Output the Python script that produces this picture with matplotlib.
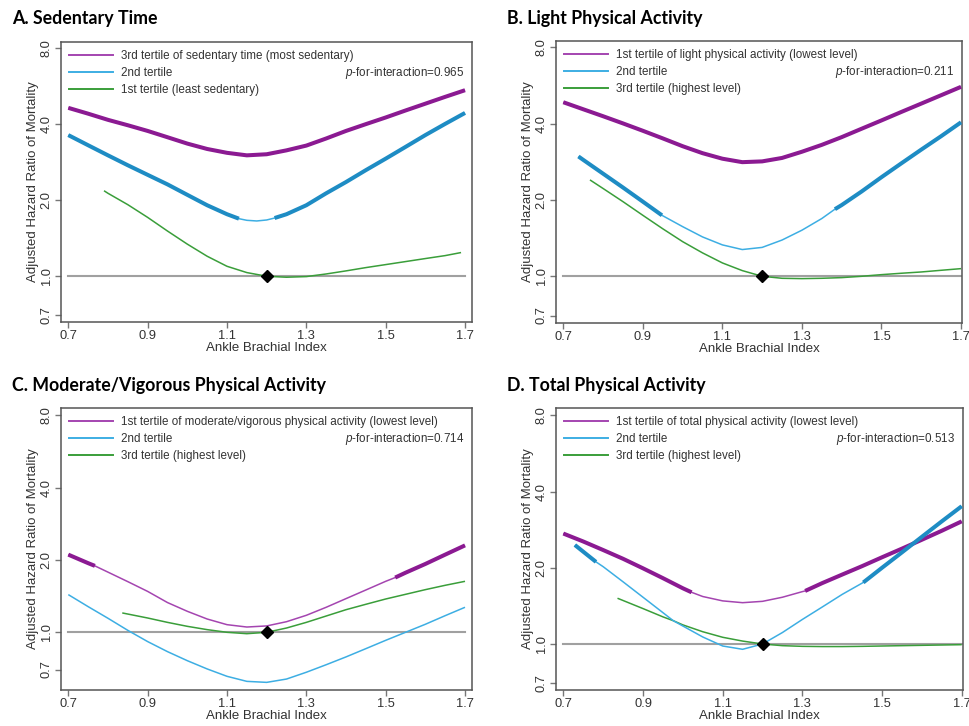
import matplotlib.pyplot as plt
import matplotlib.ticker as mticker
import numpy as np

plt.rcParams['font.family'] = ['Liberation Sans', 'DejaVu Sans']
plt.rcParams['mathtext.fontset'] = 'custom'
plt.rcParams['mathtext.rm'] = 'Liberation Sans'
plt.rcParams['mathtext.it'] = 'Liberation Sans:italic'

# ---------------- data (ABI vs adjusted HR) ----------------
titles = ['A. Sedentary Time', 'B. Light Physical Activity',
          'C. Moderate/Vigorous Physical Activity', 'D. Total Physical Activity']
labels_a = ['3rd tertile of sedentary time (most sedentary)', '2nd tertile', '1st tertile (least sedentary)']
labels_b = ['1st tertile of light physical activity (lowest level)', '2nd tertile', '3rd tertile (highest level)']
labels_c = ['1st tertile of moderate/vigorous physical activity (lowest level)', '2nd tertile', '3rd tertile (highest level)']
labels_d = ['1st tertile of total physical activity (lowest level)', '2nd tertile', '3rd tertile (highest level)']
p_values = ['0.965', '0.211', '0.714', '0.513']

x_ticks = [0.7, 0.9, 1.1, 1.3, 1.5, 1.7]
y_ticks = [0.7, 1.0, 2.0, 4.0, 8.0]
ref_abi = 1.2

abi_grid = [0.70, 0.75, 0.80, 0.85, 0.90, 0.95, 1.00, 1.05, 1.10, 1.15, 1.20,
            1.25, 1.30, 1.35, 1.40, 1.45, 1.50, 1.55, 1.60, 1.65, 1.70]

# panel A
a_purple_x = abi_grid
a_purple_hr = [4.64, 4.40, 4.16, 3.96, 3.76, 3.55, 3.35, 3.19, 3.08, 3.01, 3.04,
               3.15, 3.29, 3.51, 3.76, 4.00, 4.25, 4.53, 4.82, 5.13, 5.45]
a_blue_x = [0.70, 0.75, 0.80, 0.85, 0.90, 0.95, 1.00, 1.05, 1.10, 1.13, 1.15, 1.175, 1.20, 1.22,
            1.25, 1.30, 1.35, 1.40, 1.45, 1.50, 1.55, 1.60, 1.65, 1.70]
a_blue_hr = [3.62, 3.30, 3.01, 2.75, 2.52, 2.31, 2.10, 1.91, 1.76, 1.69, 1.665, 1.655, 1.67, 1.70,
             1.76, 1.91, 2.13, 2.36, 2.63, 2.92, 3.25, 3.62, 4.01, 4.43]
a_green_x = [0.79, 0.80, 0.85, 0.90, 0.95, 1.00, 1.05, 1.10, 1.15, 1.20, 1.25, 1.30, 1.35,
             1.40, 1.45, 1.50, 1.55, 1.60, 1.65, 1.69]
a_green_hr = [2.18, 2.13, 1.92, 1.71, 1.51, 1.34, 1.20, 1.095, 1.034, 1.00, 0.991, 0.997, 1.021,
              1.05, 1.082, 1.112, 1.143, 1.175, 1.207, 1.241]
a_thick = [[(0.70, 1.70)], [(0.70, 1.13), (1.22, 1.70)], []]

# panel B
b_purple_x = abi_grid
b_purple_hr = [4.86, 4.56, 4.28, 4.01, 3.75, 3.50, 3.26, 3.06, 2.91, 2.82, 2.84,
               2.93, 3.10, 3.30, 3.54, 3.82, 4.12, 4.45, 4.80, 5.18, 5.59]
b_blue_x = [0.738, 0.75, 0.80, 0.85, 0.90, 0.948, 1.00, 1.05, 1.10, 1.15, 1.20, 1.25, 1.30,
            1.35, 1.383, 1.40, 1.45, 1.50, 1.55, 1.60, 1.65, 1.70]
b_blue_hr = [2.97, 2.88, 2.54, 2.24, 1.97, 1.74, 1.57, 1.43, 1.33, 1.275, 1.30, 1.39, 1.52,
             1.69, 1.84, 1.91, 2.16, 2.46, 2.79, 3.16, 3.57, 4.05]
b_green_x = [0.767, 0.80, 0.85, 0.90, 0.95, 1.00, 1.05, 1.10, 1.15, 1.20, 1.25, 1.30, 1.35,
             1.40, 1.45, 1.50, 1.55, 1.60, 1.65, 1.70]
b_green_hr = [2.40, 2.22, 1.97, 1.74, 1.54, 1.37, 1.237, 1.129, 1.053, 1.00, 0.982, 0.979, 0.982,
              0.988, 1.00, 1.015, 1.028, 1.04, 1.056, 1.072]
b_thick = [[(0.70, 1.70)], [(0.738, 0.948), (1.383, 1.70)], []]

# panel C
c_purple_x = [0.70, 0.75, 0.767, 0.80, 0.85, 0.90, 0.95, 1.00, 1.05, 1.10, 1.15, 1.20, 1.25,
              1.30, 1.35, 1.40, 1.45, 1.50, 1.524, 1.55, 1.60, 1.65, 1.70]
c_purple_hr = [2.105, 1.94, 1.89, 1.78, 1.625, 1.48, 1.33, 1.223, 1.136, 1.076, 1.052, 1.063, 1.107,
               1.177, 1.271, 1.381, 1.50, 1.63, 1.69, 1.77, 1.925, 2.105, 2.30]
c_blue_x = abi_grid
c_blue_hr = [1.435, 1.279, 1.144, 1.019, 0.915, 0.831, 0.762, 0.704, 0.656, 0.625, 0.619,
             0.639, 0.682, 0.733, 0.790, 0.855, 0.926, 1.00, 1.08, 1.173, 1.271]
c_green_x = [0.836, 0.90, 0.95, 1.00, 1.05, 1.10, 1.15, 1.20, 1.25, 1.30, 1.35, 1.40, 1.45,
             1.50, 1.55, 1.60, 1.65, 1.70]
c_green_hr = [1.204, 1.147, 1.10, 1.059, 1.026, 1.00, 0.987, 1.00, 1.042, 1.10, 1.169, 1.242, 1.308,
              1.376, 1.439, 1.505, 1.569, 1.63]
c_thick = [[(0.70, 0.767), (1.524, 1.70)], [], []]

# panel D
d_purple_x = [0.70, 0.75, 0.80, 0.85, 0.90, 0.95, 1.00, 1.022, 1.05, 1.10, 1.15, 1.20, 1.25,
              1.30, 1.307, 1.35, 1.40, 1.45, 1.50, 1.55, 1.60, 1.65, 1.70]
d_purple_hr = [2.73, 2.54, 2.35, 2.17, 1.99, 1.82, 1.66, 1.60, 1.54, 1.48, 1.456, 1.474, 1.53,
               1.61, 1.62, 1.74, 1.88, 2.03, 2.20, 2.38, 2.58, 2.80, 3.05]
d_blue_x = [0.729, 0.782, 0.80, 0.85, 0.90, 0.95, 0.976, 1.00, 1.05, 1.10, 1.15, 1.20, 1.25,
            1.30, 1.35, 1.40, 1.453, 1.50, 1.55, 1.60, 1.65, 1.70]
d_blue_hr = [2.46, 2.11, 2.02, 1.76, 1.53, 1.33, 1.236, 1.178, 1.066, 0.982, 0.953, 1.00, 1.11,
             1.25, 1.40, 1.57, 1.75, 2.00, 2.30, 2.65, 3.05, 3.50]
d_green_x = [0.836, 0.90, 0.95, 0.976, 1.00, 1.05, 1.10, 1.15, 1.20, 1.25, 1.30, 1.35, 1.40,
             1.45, 1.50, 1.55, 1.60, 1.65, 1.70]
d_green_hr = [1.516, 1.38, 1.28, 1.236, 1.19, 1.118, 1.063, 1.027, 1.00, 0.985, 0.979, 0.977, 0.977,
              0.979, 0.982, 0.985, 0.988, 0.991, 0.994]
d_thick = [[(0.70, 1.022), (1.307, 1.70)], [(0.729, 0.782), (1.453, 1.70)], []]

# ---------------- styling ----------------
thick_col = ['#8B1A92', '#1E8CC4', '#3A9E3A']
thin_col = ['#A445B0', '#3DAEE3', '#3A9E3A']
W, H = 969, 726

# frame boxes in pixels: left, top, right, bottom
boxes = [(61, 41.7, 472, 322), (556, 40.7, 962, 322.7),
         (61, 408, 472, 689.7), (556, 408, 963, 689.7)]
xlims = [(0.6816, 1.7176), (0.6816, 1.7025), (0.6816, 1.7176), (0.6816, 1.7033)]
ylims = [(0.659, 8.48), (0.656, 8.5), (0.577, 8.58), (0.66, 8.55)]
title_pos = [(12, 24.3), (506.7, 24.3), (12, 391.3), (506.7, 391.3)]

panels = [
    (labels_a, [(a_purple_x, a_purple_hr), (a_blue_x, a_blue_hr), (a_green_x, a_green_hr)], a_thick),
    (labels_b, [(b_purple_x, b_purple_hr), (b_blue_x, b_blue_hr), (b_green_x, b_green_hr)], b_thick),
    (labels_c, [(c_purple_x, c_purple_hr), (c_blue_x, c_blue_hr), (c_green_x, c_green_hr)], c_thick),
    (labels_d, [(d_purple_x, d_purple_hr), (d_blue_x, d_blue_hr), (d_green_x, d_green_hr)], d_thick),
]

fig = plt.figure(figsize=(W / 100, H / 100), dpi=100)

for k, (labels, series, thick) in enumerate(panels):
    l, t, r, b = boxes[k]
    ax = fig.add_axes([l / W, 1 - b / H, (r - l) / W, (b - t) / H])
    ax.set_yscale('log')

    ax.plot([0.7, 1.7], [1.0, 1.0], color='#A0A0A0', lw=1.5, zorder=1)

    handles = []
    for s in [2, 0, 1]:
        x = np.array(series[s][0])
        y = np.array(series[s][1])
        ax.plot(x, y, color=thin_col[s], lw=1.1, zorder=2, solid_capstyle='butt')
        for (x0, x1) in thick[s]:
            m = (x >= x0 - 1e-9) & (x <= x1 + 1e-9)
            ax.plot(x[m], y[m], color=thick_col[s], lw=2.9, zorder=3,
                    solid_capstyle='butt', solid_joinstyle='round')
    for s in range(3):
        h, = ax.plot([], [], color=thin_col[s], lw=1.4)
        handles.append(h)

    ax.plot([ref_abi], [1.0], marker='D', color='black', ms=6, zorder=5)

    ax.set_xlim(*xlims[k])
    ax.set_ylim(*ylims[k])
    ax.set_xticks(x_ticks)
    ax.set_xticklabels(['%.1f' % v for v in x_ticks])
    ax.yaxis.set_major_locator(mticker.FixedLocator(y_ticks))
    ax.yaxis.set_minor_locator(mticker.NullLocator())
    ax.set_yticklabels(['%.1f' % v for v in y_ticks])
    for lab in ax.get_yticklabels():
        lab.set_rotation(90)
        lab.set_va('center')
    ax.tick_params(axis='both', labelsize=9.3, color='#777777', length=4, width=1,
                   labelcolor='#333333', pad=2)
    for sp in ax.spines.values():
        sp.set_color('#555555')
        sp.set_linewidth(1.1)

    ax.set_xlabel('Ankle Brachial Index', fontsize=9.5, color='#333333', labelpad=0)
    ax.set_ylabel('Adjusted Hazard Ratio of Mortality', fontsize=9.5, color='#333333', labelpad=1)

    wpx = r - l
    hpx = b - t
    ax.legend(handles, labels, loc='upper left', frameon=False, fontsize=8.4,
              bbox_to_anchor=(8 / wpx, 1 - 8 / hpx), borderaxespad=0, borderpad=0,
              handlelength=3.8, handletextpad=0.65, labelspacing=0.45,
              labelcolor='#333333')
    ax.text(1 - 8 / wpx, 1 - 31 / hpx, '$p$-for-interaction=' + p_values[k],
            transform=ax.transAxes, ha='right', va='center', fontsize=8.4, color='#333333')

    tx, ty = title_pos[k]
    fig.text(tx / W, 1 - ty / H, titles[k], fontsize=12.8, fontweight='bold',
             family=['Lato', 'DejaVu Sans'], ha='left', va='baseline', color='black')

fig.savefig('out.png', dpi=100)
